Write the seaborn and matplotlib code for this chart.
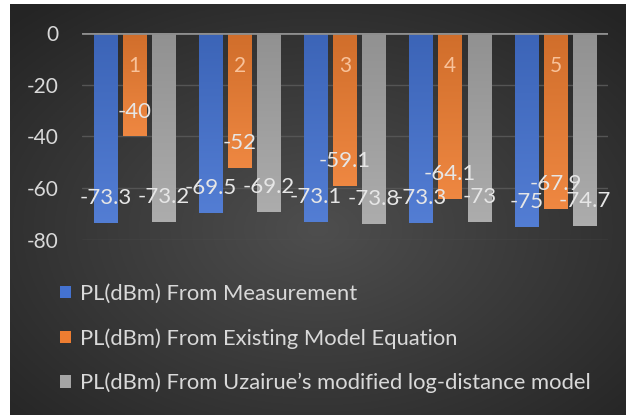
import numpy as np
import pandas as pd
import matplotlib
matplotlib.use("Agg")
import matplotlib.pyplot as plt
import matplotlib.colors as mcolors
import seaborn as sns

# Path-loss readings at the five measurement points
points = ["1", "2", "3", "4", "5"]
measurement = [-73.3, -69.5, -73.1, -73.3, -75]
existing_model = [-40, -52, -59.1, -64.1, -67.9]
uzairue_model = [-73.2, -69.2, -73.8, -73, -74.7]
series_names = [
    "PL(dBm) From Measurement",
    "PL(dBm) From Existing Model Equation",
    "PL(dBm) From Uzairue\u2019s modified log-distance model",
]
y_ticks = [0, -20, -40, -60, -80]

colors = ["#4472d0", "#ed7d31", "#a5a5a5"]

df = pd.DataFrame({
    "point": points * 3,
    "pl": measurement + existing_model + uzairue_model,
    "source": np.repeat(series_names, len(points)),
})

sns.set_theme(style="dark")
plt.rcParams["font.family"] = ["Lato", "DejaVu Sans"]
plt.rcParams["axes.unicode_minus"] = False

W, H = 626, 415
fig = plt.figure(figsize=(W / 100, H / 100), dpi=100, facecolor="white")

# dark radial-gradient panel behind the chart
bg = fig.add_axes([10 / W, 0, (W - 10) / W, (H - 4) / H])
ny, nx = 200, 300
yy, xx = np.mgrid[0:1:ny * 1j, 0:1:nx * 1j]
r = np.clip(np.sqrt(((xx - 0.5) / 0.72) ** 2 + ((yy - 0.55) / 0.72) ** 2), 0, 1)
center = np.array([78, 78, 78]) / 255
edge = np.array([36, 36, 36]) / 255
img = center[None, None, :] * (1 - r[..., None]) + edge[None, None, :] * r[..., None]
bg.imshow(img, extent=[0, 1, 0, 1], aspect="auto", origin="upper")
bg.set_axis_off()

ax = fig.add_axes([82 / W, (H - 240) / H, 526 / W, 207 / H])
ax.set_facecolor("none")

sns.barplot(
    data=df, x="point", y="pl", hue="source", order=points, hue_order=series_names,
    palette=colors, saturation=1, width=0.83, gap=0.19, errorbar=None, ax=ax,
)

ax.set_xlim(-0.5, len(points) - 0.5)
ax.set_ylim(-80, 0)

# vertical gradient fill on each bar
for cont in ax.containers:
    for patch in cont:
        patch.set_edgecolor("none")
        bb = patch.get_bbox()
        base = np.array(mcolors.to_rgb(patch.get_facecolor()))
        top = np.clip(base + (1 - base) * 0.08, 0, 1)
        bottom = base * 0.88
        grad = np.linspace(top, bottom, 64)[:, None, :]
        ax.imshow(grad, extent=[bb.x0, bb.x1, bb.y0, bb.y1], aspect="auto",
                  origin="upper", interpolation="bilinear", zorder=1.2)
ax.set_xlim(-0.5, len(points) - 0.5)
ax.set_ylim(-80, 0)

# value labels
for cont in ax.containers:
    for patch, val in zip(cont, cont.datavalues):
        xc = patch.get_x() + patch.get_width() / 2
        ax.annotate(f"{val:g}", xy=(xc, val), xytext=(0, 18), textcoords="offset points",
                    ha="center", va="center", color="#e6e6e6", fontsize=16, zorder=6)

# gridlines behind the bars, axis labels on top of them
ax.grid(False)
ax.set_axisbelow(False)
for t in y_ticks[1:]:
    ax.axhline(t, color="#555555", lw=1, zorder=0.5)
ax.axhline(0, color="#8e8e8e", lw=2, zorder=4)
for s in ax.spines.values():
    s.set_visible(False)

ax.set_yticks(y_ticks)
ax.tick_params(axis="y", length=0, pad=17, labelsize=15, labelcolor="#d9d9d9")
ax.xaxis.set_ticks_position("top")
ax.tick_params(axis="x", length=0, pad=-31, labelsize=15, labelcolor="#f8c29a",
               labeltop=True, labelbottom=False)
ax.set_xlabel("")
ax.set_ylabel("")

handles, labels = ax.get_legend_handles_labels()
for h in handles:
    h.set_edgecolor("none")
if ax.get_legend() is not None:
    ax.get_legend().remove()
fig.legend(handles, labels, loc="upper left", bbox_to_anchor=(60 / W, (H - 284) / H),
           bbox_transform=fig.transFigure, frameon=False, fontsize=15.8, labelcolor="#d9d9d9",
           handlelength=0.5, handleheight=0.5, handletextpad=0.4, labelspacing=1.1,
           borderpad=0, borderaxespad=0)

fig.savefig("out.png", dpi=100)
